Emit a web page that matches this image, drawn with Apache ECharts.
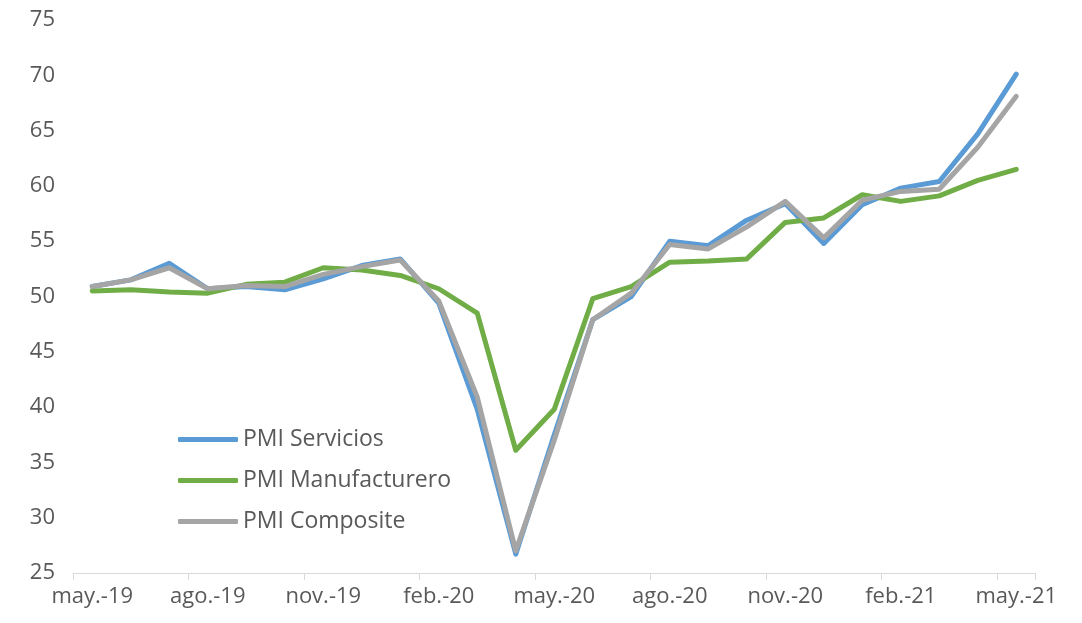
<!DOCTYPE html>
<html>
<head>
<meta charset="utf-8">
<script src="https://cdn.jsdelivr.net/npm/echarts@6/dist/echarts.min.js"></script>
<style>
html,body{margin:0;padding:0;background:#fff;}
#chart{width:1082px;height:623px;}
</style>
</head>
<body>
<div id="chart"></div>
<script>
const categories = ["may.-19","jun.-19","jul.-19","ago.-19","sep.-19","oct.-19","nov.-19","dic.-19","ene.-20","feb.-20","mar.-20","abr.-20","may.-20","jun.-20","jul.-20","ago.-20","sep.-20","oct.-20","nov.-20","dic.-20","ene.-21","feb.-21","mar.-21","abr.-21","may.-21"];
const servicios = [50.9,51.5,53.0,50.7,50.9,50.6,51.6,52.8,53.4,49.4,39.8,26.7,37.5,47.9,50.0,55.0,54.6,56.9,58.4,54.8,58.3,59.8,60.4,64.7,70.1];
const manufacturero = [50.5,50.6,50.4,50.3,51.1,51.3,52.6,52.4,51.9,50.7,48.5,36.1,39.8,49.8,50.9,53.1,53.2,53.4,56.7,57.1,59.2,58.6,59.1,60.5,61.5];
const composite = [50.9,51.5,52.6,50.7,51.0,50.9,52.0,52.7,53.3,49.6,40.9,27.0,37.0,47.9,50.3,54.7,54.3,56.3,58.6,55.3,58.7,59.5,59.7,63.5,68.1];
const seriesNames = ["PMI Servicios","PMI Manufacturero","PMI Composite"];
const colors = ["#5B9BD5","#70AD47","#A5A5A5"];

const chart = echarts.init(document.getElementById('chart'), null, {renderer:'canvas'});
const font = "Open Sans";
const textColor = "#595959";
const mk = (name, data, color) => ({
  name, type:'line', data, symbol:'none', smooth:false,
  lineStyle:{color, width:5, join:'round', cap:'round'},
  itemStyle:{color}, animation:false
});
chart.setOption({
  animation:false,
  color: colors,
  grid:{left:73, right:46.5, top:20, bottom:50, containLabel:false},
  legend:{
    orient:'vertical', left:173, top:423, itemWidth:60, itemHeight:5, itemGap:18,
    icon:'roundRect',
    data: seriesNames,
    textStyle:{fontFamily:font, fontSize:23, color:textColor, padding:[0,0,0,0]}
  },
  xAxis:{
    type:'category', data:categories, boundaryGap:true,
    axisLine:{show:true, lineStyle:{color:'#D9D9D9', width:1}},
    axisTick:{show:true, interval:(i)=> i%3===0, length:7, lineStyle:{color:'#D9D9D9'}},
    axisLabel:{interval:(i)=> i%3===0, fontFamily:font, fontSize:22, color:textColor, margin:13},
    splitLine:{show:false}
  },
  yAxis:{
    type:'value', min:25, max:75, interval:5,
    axisLine:{show:false}, axisTick:{show:false}, splitLine:{show:false},
    axisLabel:{fontFamily:font, fontSize:22, color:textColor, margin:18}
  },
  series:[
    mk(seriesNames[0], servicios, colors[0]),
    mk(seriesNames[1], manufacturero, colors[1]),
    mk(seriesNames[2], composite, colors[2])
  ]
});
</script>
</body>
</html>
